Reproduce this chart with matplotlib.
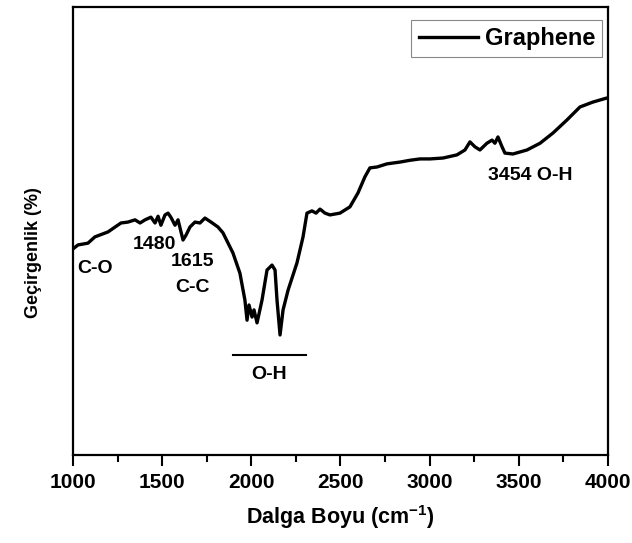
import matplotlib.pyplot as plt
from matplotlib.ticker import MultipleLocator

plt.rcParams["font.family"] = ["Liberation Sans", "DejaVu Sans"]
plt.rcParams["font.weight"] = "bold"

# FTIR spectrum of graphene (wavenumber in cm^-1, transmittance in arbitrary %)
wavenumber = [
    1006, 1028, 1084, 1123, 1196, 1269, 1308, 1348, 1376, 1404,
    1437, 1460, 1477, 1493, 1516, 1533, 1550, 1572, 1589, 1617,
    1634, 1656, 1684, 1712, 1740, 1774, 1813, 1841, 1897, 1936,
    1964, 1976, 1987, 2004, 2015, 2032, 2060, 2088, 2116, 2133,
    2144, 2161, 2178, 2206, 2256, 2290, 2312, 2340, 2363, 2385,
    2413, 2441, 2497, 2553, 2598, 2637, 2665, 2705, 2761, 2834,
    2890, 2946, 3002, 3075, 3153, 3198, 3226, 3254, 3282, 3321,
    3350, 3366, 3383, 3406, 3422, 3467, 3546, 3619, 3692, 3770,
    3843, 3916, 3994,
]
transmittance = [
    46.2, 46.9, 47.3, 48.7, 49.8, 51.8, 52.0, 52.5, 51.8, 52.5,
    53.1, 51.8, 53.3, 51.3, 53.6, 54.0, 53.0, 51.3, 52.5, 48.0,
    49.1, 50.9, 52.0, 51.8, 52.9, 52.0, 50.9, 49.6, 45.1, 40.6,
    34.6, 30.1, 33.5, 30.8, 32.4, 29.5, 34.6, 41.3, 42.4, 41.3,
    34.6, 26.8, 32.4, 36.8, 42.9, 48.7, 54.0, 54.5, 54.0, 54.9,
    54.0, 53.6, 54.0, 55.4, 58.5, 62.1, 64.1, 64.3, 65.0, 65.4,
    65.8, 66.1, 66.1, 66.3, 67.0, 68.1, 69.9, 68.8, 68.1, 69.6,
    70.3, 69.6, 71.0, 68.8, 67.4, 67.2, 68.1, 69.6, 71.9, 74.8,
    77.7, 78.8, 79.7,
]

# band assignments: (text, x, y, horizontal alignment)
band_labels = [
    ("C-O", 1022, 41.7, "left"),
    ("1480", 1454, 46.9, "center"),
    ("1615", 1668, 43.1, "center"),
    ("C-C", 1668, 37.3, "center"),
    ("O-H", 2099, 17.9, "center"),
    ("3454 O-H", 3563, 62.5, "center"),
]
oh_bar = (1898, 2306, 22.3)

fig = plt.figure(figsize=(6.32, 5.43), dpi=100)
ax = fig.add_axes([0.1155, 0.162, 0.8465, 0.825])

ax.plot(wavenumber, transmittance, color="black", linewidth=2.4, label="Graphene")

for text, x, y, ha in band_labels:
    ax.text(x, y, text, ha=ha, va="center", fontsize=14, fontweight="bold")
ax.plot([oh_bar[0], oh_bar[1]], [oh_bar[2], oh_bar[2]], color="black", linewidth=1.5)

ax.set_xlim(1000, 4000)
ax.set_ylim(0, 100)
ax.xaxis.set_major_locator(MultipleLocator(500))
ax.xaxis.set_minor_locator(MultipleLocator(250))
ax.tick_params(axis="x", which="major", length=8, width=1.5, labelsize=15, pad=5)
ax.tick_params(axis="x", which="minor", length=5, width=1.5)
ax.tick_params(axis="y", left=False, labelleft=False)
for spine in ax.spines.values():
    spine.set_linewidth(1.6)

ax.set_xlabel("Dalga Boyu (cm$^{\\mathregular{-1}}$)", fontsize=15.5, fontweight="bold", labelpad=8)
ax.set_ylabel("Geçirgenlik (%)", fontsize=13, fontweight="bold")
ax.yaxis.set_label_coords(-0.058, 0.453)

leg = ax.legend(loc="upper right", fontsize=17, handlelength=2.5, handletextpad=0.3,
                borderpad=0.3, borderaxespad=0, fancybox=False, framealpha=1,
                bbox_to_anchor=(0.989, 0.971))
leg.get_frame().set_edgecolor("#888888")
leg.get_frame().set_linewidth(0.8)

fig.savefig("out.png", dpi=100)
